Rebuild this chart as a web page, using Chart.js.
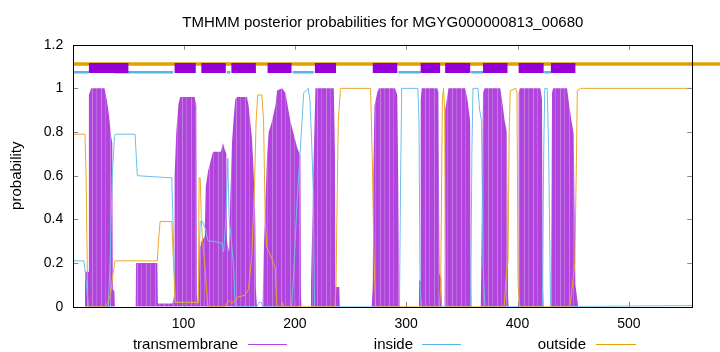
<!DOCTYPE html>
<html>
<head>
<meta charset="utf-8">
<script src="https://cdn.jsdelivr.net/npm/chart.js"></script>
<style>
    body { margin: 0; background: #fff; }
    #wrap { position: relative; width: 720px; height: 352px; font-family: 'Liberation Sans', Arial, sans-serif; color: #000; }
    .key { position: absolute; top: 335px; font-size: 15px; line-height: 18px; white-space: nowrap; }
    .sample { position: absolute; top: 344px; height: 0; border-top: 1px solid; }
</style>
</head>
<body>
<div id="wrap">
    <canvas id="chart" width="720" height="352"></canvas>
    <!-- gnuplot style key: text first, then the line sample -->
    <span class="key" style="right:482px">transmembrane</span>
    <div class="sample" style="left:248px;width:39px;border-color:#b347e0"></div>
    <span class="key" style="right:307px">inside</span>
    <div class="sample" style="left:422px;width:39px;border-color:#56b4e9"></div>
    <span class="key" style="right:134px">outside</span>
    <div class="sample" style="left:596px;width:40px;border-color:#e69f00"></div>
</div>
<script>
    const title = 'TMHMM posterior probabilities for MGYG000000813_00680';
    const seqLength = 557;
    const xTicks = [100, 200, 300, 400, 500];
    const yTicks = [0, 0.2, 0.4, 0.6, 0.8, 1, 1.2];
    const yTickLabels = ['0', '0.2', '0.4', '0.6', '0.8', '1', '1.2'];

    // posterior probabilities as (residue, value)
    const tmPos = [1, 11, 11.5, 14.5, 15, 17, 29, 31, 33, 35, 36, 36.5, 38, 38.5,
        57, 57.4, 76.5, 77, 90, 91.5, 92, 93.5, 95.5, 97, 110, 111.5, 112, 113,
        114, 116, 119, 120, 122, 124, 126.5, 133.5, 135.5, 137, 138.5, 139, 141, 142, 143.5, 145, 146.5, 148, 157, 158.5, 161.5, 163, 164.5, 165, 166,
        171, 172, 173.5, 175, 176.5, 179.5, 182.5, 184, 188.5, 191.5, 196, 199, 202, 205, 205.5, 206,
        214, 214.5, 217, 218.5, 235, 236, 236.5, 240, 240.5,
        269, 270, 270.5, 271.5, 274, 275.5, 290, 292, 293, 294,
        311, 311.5, 312.5, 313, 314, 328, 329, 330, 331.5, 332,
        334.5, 335, 338, 353, 355, 356.5, 357.5, 358, 358.7,
        367, 367.5, 369, 370.5, 384.5, 386, 388.5, 390.5, 391.5, 392,
        400.5, 401, 402, 420.5, 422, 423, 423.5,
        429.5, 430, 431, 432, 444.5, 446, 448.5, 450.5, 452, 454.5, 557];
    const tmProb = [0, 0, 0.16, 0.16, 0.97, 1, 1, 0.95, 0.88, 0.78, 0.75, 0.08, 0.07, 0,
        0, 0.2, 0.2, 0.015, 0.015, 0.05, 0.6, 0.8, 0.93, 0.96, 0.96, 0.92, 0.05, 0,
        0.25, 0.3, 0.32, 0.55, 0.62, 0.66, 0.71, 0.71, 0.75, 0.72, 0.7, 0.3, 0.25, 0.5, 0.75, 0.86, 0.95, 0.96, 0.96, 0.92, 0.77, 0.62, 0.39, 0.08, 0,
        0, 0.24, 0.47, 0.69, 0.8, 0.85, 0.92, 0.99, 1, 0.98, 0.85, 0.79, 0.73, 0.69, 0.05, 0,
        0, 0.1, 0.7, 1, 1, 0.71, 0.09, 0.09, 0,
        0, 0.1, 0.6, 0.92, 0.98, 1, 1, 0.97, 0.54, 0,
        0, 0.12, 0.12, 0.95, 1, 1, 0.98, 0.15, 0.13, 0,
        0, 0.9, 1, 1, 0.95, 0.89, 0.85, 0.2, 0,
        0, 0.2, 0.98, 1, 1, 0.95, 0.85, 0.8, 0.05, 0,
        0, 0.98, 1, 1, 0.95, 0.08, 0,
        0, 0.11, 0.98, 1, 1, 0.94, 0.85, 0.79, 0.1, 0, 0];

    const inPos = [1, 10.5, 12, 14.5, 32.5, 34, 36, 38, 39, 56.5, 58.5, 89.5, 91, 92.5, 113, 114, 115, 117, 119.5, 122, 127, 134.5, 136, 138, 139.8, 141, 143, 145, 146.5,
        166, 168, 170, 171, 197, 199, 202, 205, 208, 212, 213.5, 215, 216.5, 217.7,
        294, 295, 296, 310.5, 311.5, 312.5, 314, 358, 359, 360, 364.5, 366, 367.7, 369, 370.7,
        422.5, 423.5, 424.5, 426.7, 428, 429.7, 557];
    const inProb = [0.21, 0.21, 0.15, 0, 0, 0.2, 0.6, 0.78, 0.79, 0.79, 0.6, 0.59, 0.3, 0.02, 0.02, 0.2, 0.39, 0.39, 0.36, 0.3, 0.3, 0.29, 0.25, 0.4, 0.68, 0.4, 0.3, 0.18, 0,
        0, 0.02, 0.02, 0, 0, 0.16, 0.48, 0.73, 0.98, 1, 0.95, 0.77, 0.54, 0,
        0, 0.6, 1, 1, 0.85, 0.08, 0, 0, 0.7, 1, 1, 0.9, 0.85, 0.2, 0,
        0, 0.7, 1, 1, 0.7, 0, 0.005];

    const outPos = [1, 11.5, 12.5, 14, 29.5, 32, 34.5, 36.5, 38.5, 76.5, 77.5, 79, 89.5, 91, 92.5, 113.4, 114, 115, 116, 117, 119, 121.8,
        137.4, 140.4, 143.4, 149.4, 155.4, 158.4, 161.4, 163.7, 165.2, 166.7, 170.4, 171.9, 173.4, 174.9, 177.8, 182.3, 183.8, 188, 188.5, 190,
        236, 237, 238, 239, 241, 268, 269.5, 271, 272.5, 330, 331, 332.5, 333.5, 334.5, 335.5,
        388, 390.5, 391.5, 392.5, 393.5, 398.5, 399.5, 400.5, 401.8, 447, 448.5, 451.5, 453, 453.7, 456.7, 557];
    const outProb = [0.79, 0.79, 0.6, 0, 0, 0.02, 0.06, 0.145, 0.21, 0.21, 0.3, 0.39, 0.39, 0.2, 0.02, 0.02, 0.59, 0.59, 0.4, 0.31, 0.2, 0,
        0, 0.03, 0.015, 0.045, 0.053, 0.08, 0.24, 0.54, 0.85, 0.97, 0.97, 0.85, 0.39, 0.27, 0.24, 0.18, 0, 0, 0.02, 0,
        0, 0.1, 0.5, 0.85, 1, 1, 0.69, 0.24, 0, 0, 0.1, 0.95, 1, 0.9, 0,
        0, 0.19, 0.2, 0.8, 0.99, 1, 0.98, 0.1, 0, 0, 0.06, 0.2, 0.7, 0.99, 1, 1];

    // predicted topology drawn above the curves
    const tmSegStart = [15, 92, 116, 143, 175.5, 218, 270, 313, 335, 369, 401, 430];
    const tmSegEnd = [50.5, 111, 138, 165, 197, 237, 292, 330.5, 357.5, 391, 423.5, 452];
    const inSegStart = [1, 38.5, 139, 198, 293, 358, 424];
    const inSegEnd = [15, 90.7, 142, 217, 313, 369, 430];
    const outSegStart = [1];
    const outSegEnd = [583];

    const pts = (xs, ys) => xs.map((x, i) => ({ x: x, y: ys[i] }));
    function segs(starts, ends, level) {
        const out = [];
        starts.forEach((s, i) => {
            out.push({ x: s, y: level }, { x: ends[i], y: level }, { x: ends[i], y: null });
        });
        return out;
    }

    // impulse look: purple with faint lighter columns
    function impulseFill() {
        const c = document.createElement('canvas');
        c.width = 9; c.height = 1;
        const g = c.getContext('2d');
        g.fillStyle = '#b244de'; g.fillRect(0, 0, 9, 1);
        g.fillStyle = '#c57be6'; g.fillRect(2, 0, 1, 1);
        g.fillStyle = '#bd66e2'; g.fillRect(6, 0, 1, 1);
        return g.createPattern(c, 'repeat');
    }

    // box + inward tick marks like gnuplot
    const frame = {
        id: 'frame',
        afterDatasetsDraw(chart) {
            const { ctx, chartArea: a, scales: { x, y } } = chart;
            ctx.save();
            ctx.lineWidth = 1;
            ctx.strokeStyle = '#888';
            ctx.beginPath();
            x.ticks.forEach(t => {
                const px = Math.round(x.getPixelForValue(t.value)) + 0.5;
                ctx.moveTo(px, a.bottom); ctx.lineTo(px, a.bottom - 5);
                ctx.moveTo(px, a.top); ctx.lineTo(px, a.top + 5);
            });
            y.ticks.forEach(t => {
                const py = Math.round(y.getPixelForValue(t.value)) + 0.5;
                ctx.moveTo(a.left, py); ctx.lineTo(a.left + 5, py);
                ctx.moveTo(a.right, py); ctx.lineTo(a.right - 5, py);
            });
            ctx.stroke();
            ctx.strokeStyle = '#000';
            ctx.strokeRect(Math.round(a.left) + 0.5, Math.round(a.top) + 0.5,
                Math.round(a.right - a.left), Math.round(a.bottom - a.top));
            ctx.restore();
        }
    };

    Chart.defaults.font.family = "'Liberation Sans', Arial, sans-serif";
    Chart.defaults.color = '#000';

    new Chart(document.getElementById('chart'), {
        type: 'line',
        data: {
            datasets: [
                { label: 'outside top', data: segs(outSegStart, outSegEnd, 1.112), borderColor: '#e69f00', borderWidth: 3.5, borderCapStyle: 'butt', clip: false, order: 1 },
                { label: 'inside top', data: segs(inSegStart, inSegEnd, 1.074), borderColor: '#56b4e9', borderWidth: 2.5, borderCapStyle: 'butt', order: 1 },
                { label: 'tm top', data: segs(tmSegStart, tmSegEnd, 1.093), borderColor: '#9400d3', borderWidth: 10, borderCapStyle: 'butt', order: 0 },
                { label: 'outside', data: pts(outPos, outProb), borderColor: '#eaa82a', borderWidth: 1, order: 2 },
                { label: 'inside', data: pts(inPos, inProb), borderColor: '#6cbdeb', borderWidth: 1, order: 2 },
                { label: 'transmembrane', data: pts(tmPos, tmProb), borderWidth: 0, fill: 'origin', backgroundColor: impulseFill(), order: 5 }
            ]
        },
        options: {
            responsive: false,
            animation: false,
            elements: { point: { radius: 0 }, line: { tension: 0 } },
            layout: { padding: { left: 0, right: 27.7, top: 0, bottom: 0 } },
            plugins: {
                legend: { display: false },
                tooltip: { enabled: false },
                title: { display: true, fullSize: false, text: title, font: { size: 15, weight: 'normal' }, padding: { top: 14, bottom: 12.7 } }
            },
            scales: {
                x: {
                    type: 'linear', min: 1, max: seqLength,
                    afterBuildTicks: s => { s.ticks = xTicks.map(v => ({ value: v })); },
                    afterFit: s => { s.height = 45.3; },
                    grid: { display: false, drawTicks: false },
                    border: { display: false },
                    ticks: { padding: 9, font: { size: 14 } }
                },
                y: {
                    min: 0, max: 1.2,
                    afterBuildTicks: s => { s.ticks = yTicks.map(v => ({ value: v })); },
                    afterFit: s => { s.width = 73.3; },
                    grid: { display: false, drawTicks: false },
                    border: { display: false },
                    ticks: { padding: 10, font: { size: 14 }, callback: (v, i) => yTickLabels[i] },
                    title: { display: true, text: 'probability', font: { size: 15 }, padding: { top: 8, bottom: 0 } }
                }
            }
        },
        plugins: [frame]
    });
</script>
</body>
</html>
